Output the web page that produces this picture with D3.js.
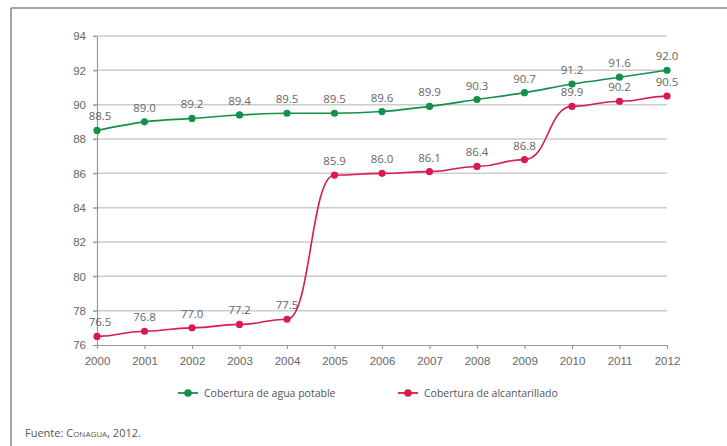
<!DOCTYPE html>
<meta charset="utf-8">
<style>
body { margin: 0; background: #fff; }
svg { font-family: "Open Sans", sans-serif; }
.grid line { stroke: #cccccc; stroke-width: 1.5px; }
.axis text { fill: #666; font-size: 11.5px; }
.axis path, .axis line { stroke: #999; stroke-width: 1.2px; }
.lbl { fill: #666; font-size: 11.5px; text-anchor: middle; }
.legend text { fill: #555; font-size: 10.5px; }
</style>
<svg width="727" height="446"></svg>
<script src="https://d3js.org/d3.v7.min.js"></script>
<script>

var years = [2000, 2001, 2002, 2003, 2004, 2005, 2006, 2007, 2008, 2009, 2010, 2011, 2012];
var agua = [88.5, 89.0, 89.2, 89.4, 89.5, 89.5, 89.6, 89.9, 90.3, 90.7, 91.2, 91.6, 92.0];
var alcantarillado = [76.5, 76.8, 77.0, 77.2, 77.5, 85.9, 86.0, 86.1, 86.4, 86.8, 89.9, 90.2, 90.5];
var yTicks = [76, 78, 80, 82, 84, 86, 88, 90, 92, 94];

var series = [
  { name: "Cobertura de agua potable", values: agua, color: "#13904a", lx: 178, curve: d3.curveMonotoneX },
  { name: "Cobertura de alcantarillado", values: alcantarillado, color: "#d81b4c", lx: 398, curve: d3.curveBumpX }
];

var svg = d3.select("svg");

// frame (top and left only)
svg.append("line").attr("x1", 11).attr("x2", 727).attr("y1", 8).attr("y2", 8)
    .attr("stroke", "#888").attr("stroke-width", 1.5);
svg.append("line").attr("x1", 11).attr("x2", 11).attr("y1", 8).attr("y2", 446)
    .attr("stroke", "#888").attr("stroke-width", 1.5);

var x = d3.scaleLinear().domain([2000, 2012]).range([97, 667]);
var y = d3.scaleLinear().domain([76, 94]).range([345, 36]);

svg.append("g")
    .attr("class", "grid")
  .selectAll("line")
  .data(yTicks.slice(1))
  .enter().append("line")
    .attr("x1", 93).attr("x2", 667)
    .attr("y1", function(d) { return y(d); })
    .attr("y2", function(d) { return y(d); });

svg.append("g")
    .attr("class", "axis")
    .attr("transform", "translate(97,0)")
    .call(d3.axisLeft(y).tickValues(yTicks).tickSize(4).tickPadding(7).tickSizeOuter(0));

svg.append("g")
    .attr("class", "axis")
    .attr("transform", "translate(0,345)")
    .call(d3.axisBottom(x).tickValues(years).tickFormat(d3.format("d")).tickSize(4).tickPadding(8).tickSizeOuter(0));

series.forEach(function(s) {
  var line = d3.line()
      .x(function(d, i) { return x(years[i]); })
      .y(function(d) { return y(d); })
      .curve(s.curve);

  svg.append("path")
      .attr("d", line(s.values))
      .attr("fill", "none")
      .attr("stroke", s.color)
      .attr("stroke-width", 1.6);

  svg.append("g").selectAll("circle")
      .data(s.values)
      .enter().append("circle")
        .attr("cx", function(d, i) { return x(years[i]); })
        .attr("cy", function(d) { return y(d); })
        .attr("r", 3.6)
        .attr("fill", s.color);

  svg.append("g").selectAll("text")
      .data(s.values)
      .enter().append("text")
        .attr("class", "lbl")
        .attr("x", function(d, i) { return x(years[i]) + (i == 0 ? 3 : 0); })
        .attr("y", function(d) { return y(d) - 10; })
        .text(function(d) { return d3.format(".1f")(d); });

  // legend
  var lg = svg.append("g").attr("class", "legend");
  lg.append("line")
      .attr("x1", s.lx).attr("x2", s.lx + 20).attr("y1", 393).attr("y2", 393)
      .attr("stroke", s.color).attr("stroke-width", 1.8);
  lg.append("circle").attr("cx", s.lx + 10).attr("cy", 393).attr("r", 3.8).attr("fill", s.color);
  lg.append("text").attr("x", s.lx + 26).attr("y", 397).text(s.name);
});

var src = svg.append("text")
    .attr("x", 25).attr("y", 437)
    .attr("fill", "#555").attr("font-size", "11px");
src.append("tspan").text("Fuente: ");
src.append("tspan").style("font-variant", "small-caps").text("Conagua");
src.append("tspan").text(", 2012.");

</script>
